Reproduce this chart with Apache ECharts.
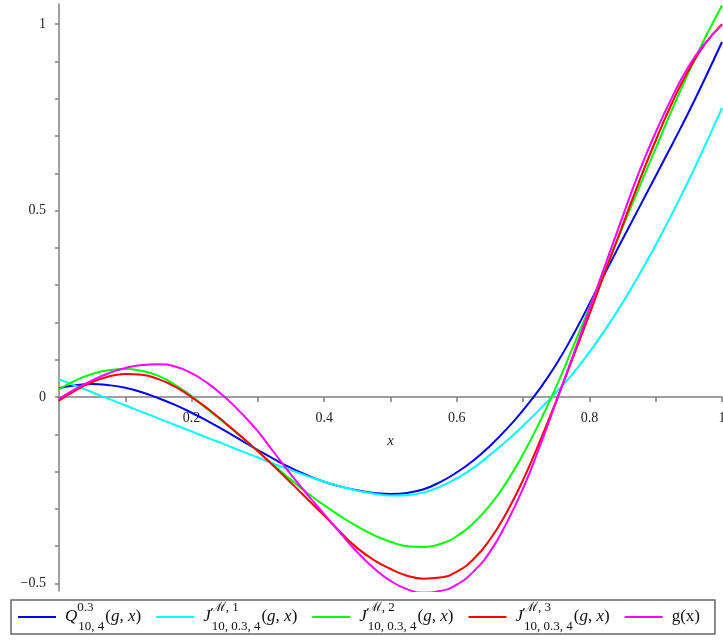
<!DOCTYPE html>
<html>
<head>
<meta charset="utf-8">
<script src="https://cdn.jsdelivr.net/npm/echarts@6/dist/echarts.min.js"></script>
<style>
html,body{margin:0;padding:0;background:#fff;}
#chart{width:723px;height:641px;}
</style>
</head>
<body>
<div id="chart"></div>
<script>
// x sample positions (values every 0.025)
const xs = [0, 0.025, 0.05, 0.075, 0.1, 0.125, 0.15, 0.175, 0.2, 0.225, 0.25, 0.275, 0.3, 0.325, 0.35, 0.375, 0.4, 0.425, 0.45, 0.475, 0.5,
            0.525, 0.55, 0.575, 0.6, 0.625, 0.65, 0.675, 0.7, 0.725, 0.75, 0.775, 0.8, 0.825, 0.85, 0.875, 0.9, 0.925, 0.95, 0.975, 1];
// Q_{10,4}^{0.3}(g,x)  (blue)
const qVals  = [0.024, 0.032, 0.035, 0.032, 0.025, 0.013, -0.003, -0.021, -0.042, -0.065, -0.09, -0.116, -0.142, -0.167, -0.19, -0.21, -0.227, -0.24, -0.25, -0.257, -0.26,
                -0.257, -0.247, -0.228, -0.202, -0.17, -0.131, -0.086, -0.035, 0.022, 0.088, 0.165, 0.25, 0.337, 0.423, 0.508, 0.593, 0.678, 0.765, 0.857, 0.952];
// J^{M,1}_{10,0.3,4}(g,x)  (cyan)
const j1Vals = [0.048, 0.03, 0.013, -0.005, -0.022, -0.04, -0.057, -0.075, -0.092, -0.11, -0.127, -0.145, -0.162, -0.18, -0.196, -0.212, -0.227, -0.24, -0.251, -0.259, -0.264,
                -0.263, -0.256, -0.24, -0.218, -0.19, -0.155, -0.118, -0.077, -0.033, 0.013, 0.063, 0.12, 0.184, 0.253, 0.328, 0.408, 0.493, 0.582, 0.677, 0.775];
// J^{M,2}_{10,0.3,4}(g,x)  (green)
const j2Vals = [0.021, 0.045, 0.062, 0.072, 0.075, 0.07, 0.057, 0.033, 0.002, -0.034, -0.07, -0.107, -0.145, -0.185, -0.222, -0.258, -0.29, -0.32, -0.347, -0.37, -0.388,
                -0.4, -0.402, -0.394, -0.373, -0.338, -0.29, -0.228, -0.153, -0.067, 0.028, 0.133, 0.24, 0.348, 0.455, 0.562, 0.667, 0.772, 0.872, 0.965, 1.05];
// J^{M,3}_{10,0.3,4}(g,x)  (red)
const j3Vals = [-0.01, 0.018, 0.04, 0.055, 0.062, 0.06, 0.048, 0.028, 0.0, -0.032, -0.068, -0.106, -0.145, -0.187, -0.23, -0.274, -0.318, -0.363, -0.405, -0.437, -0.461,
                -0.479, -0.487, -0.484, -0.468, -0.435, -0.382, -0.31, -0.222, -0.12, -0.01, 0.105, 0.222, 0.342, 0.46, 0.578, 0.688, 0.79, 0.878, 0.948, 1.0];
// g(x)  (magenta)
const gVals  = [-0.005, 0.022, 0.045, 0.064, 0.078, 0.086, 0.088, 0.082, 0.064, 0.036, 0.0, -0.043, -0.092, -0.15, -0.208, -0.262, -0.314, -0.366, -0.416, -0.459, -0.493,
                -0.515, -0.525, -0.52, -0.503, -0.468, -0.415, -0.338, -0.245, -0.133, -0.012, 0.11, 0.235, 0.36, 0.483, 0.604, 0.71, 0.805, 0.888, 0.95, 0.998];

const seriesNames = ['Q', 'J1', 'J2', 'J3', 'g'];
const xTickValues = [0, 0.1, 0.2, 0.3, 0.4, 0.5, 0.6, 0.7, 0.8, 0.9, 1];
const xLabelValues = [0.2, 0.4, 0.6, 0.8, 1];
const yTickValues = [-0.5, -0.4, -0.3, -0.2, -0.1, 0, 0.1, 0.2, 0.3, 0.4, 0.5, 0.6, 0.7, 0.8, 0.9, 1];
const yLabelValues = [-0.5, 0, 0.5, 1];

const legendRich = {
  Q:  '{it0|Q}{sup|0.3}{sub|10, 4}{n|(}{it|g}{n|, }{it|x}{n|)}',
  J1: '{it0|J}{sup|ℳ, 1}{sub|10, 0.3, 4}{n|(}{it|g}{n|, }{it|x}{n|)}',
  J2: '{it0|J}{sup|ℳ, 2}{sub|10, 0.3, 4}{n|(}{it|g}{n|, }{it|x}{n|)}',
  J3: '{it0|J}{sup|ℳ, 3}{sub|10, 0.3, 4}{n|(}{it|g}{n|, }{it|x}{n|)}',
  g:  '{n0|g(x)}'
};

const colors = ['#0000ff', '#00ffff', '#00ff00', '#ff0000', '#ff00ff'];
const valueSets = [qVals, j1Vals, j2Vals, j3Vals, gVals];

const serif = '"Liberation Serif", "DejaVu Serif", serif';
const axisColor = '#808080';
const yMin = -0.52, yMax = 1.054;
const gridTop = 4, gridBottom = 50, H = 641;
// move the x axis onto y = 0
const plotH = H - gridTop - gridBottom;
const zeroOffset = -plotH * (0 - yMin) / (yMax - yMin);

const chart = echarts.init(document.getElementById('chart'), null, {renderer: 'canvas'});
chart.setOption({
  animation: false,
  backgroundColor: '#ffffff',
  grid: {left: 59, right: 1, top: gridTop, bottom: gridBottom, containLabel: false, outerBoundsMode: 'none'},
  xAxis: {
    type: 'value', min: 0, max: 1,
    offset: zeroOffset,
    axisLine: {show: true, onZero: false, lineStyle: {color: axisColor, width: 1.5}},
    axisTick: {show: true, customValues: xTickValues, length: 5, lineStyle: {color: axisColor, width: 1.5}},
    axisLabel: {customValues: xLabelValues, margin: 14, color: '#222', fontFamily: serif, fontSize: 14,
      formatter: v => (Math.round(v * 10) / 10).toString()},
    splitLine: {show: false},
    name: 'x', nameLocation: 'middle', nameGap: 36,
    nameTextStyle: {fontFamily: serif, fontStyle: 'italic', fontSize: 15, color: '#222'}
  },
  yAxis: {
    type: 'value', min: yMin, max: yMax,
    axisLine: {show: true, onZero: false, lineStyle: {color: axisColor, width: 1.5}},
    axisTick: {show: true, customValues: yTickValues, length: 4, lineStyle: {color: axisColor, width: 1.5}},
    axisLabel: {customValues: yLabelValues, margin: 13, color: '#222', fontFamily: serif, fontSize: 14,
      formatter: v => { const r = Math.round(v * 10) / 10; return r < 0 ? '\u2212' + Math.abs(r) : r.toString(); }},
    splitLine: {show: false}
  },
  legend: {
    data: seriesNames,
    left: 11, top: 600,
    padding: [1, 15, 1, 6],
    itemGap: 14,
    itemWidth: 38, itemHeight: 14,
    itemStyle: {opacity: 0},
    borderColor: '#666', borderWidth: 1.5, borderRadius: 0,
    backgroundColor: '#fff',
    formatter: name => legendRich[name],
    textStyle: {
      fontFamily: serif, fontSize: 17, color: '#111',
      rich: {
        it0: {fontFamily: serif, fontStyle: 'italic', fontSize: 17, color: '#111', lineHeight: 32, verticalAlign: 'middle', padding: [0, 0, 0, 4]},
        it: {fontFamily: serif, fontStyle: 'italic', fontSize: 17, color: '#111', lineHeight: 32, verticalAlign: 'middle'},
        n:  {fontFamily: serif, fontSize: 17, color: '#111', lineHeight: 32, verticalAlign: 'middle'},
        n0: {fontFamily: serif, fontSize: 17, color: '#111', lineHeight: 32, verticalAlign: 'middle', padding: [0, 0, 0, 4]},
        sup:{fontFamily: serif, fontSize: 13, color: '#111', lineHeight: 13, verticalAlign: 'top', width: 1},
        sub:{fontFamily: serif, fontSize: 13, color: '#111', lineHeight: 13, verticalAlign: 'bottom', padding: [0, 1, 0, 0]}
      }
    }
  },
  series: seriesNames.map((name, i) => ({
    name: name,
    type: 'line',
    data: xs.map((x, k) => [x, valueSets[i][k]]),
    smooth: 0.5,
    symbol: 'none',
    clip: true,
    lineStyle: {color: colors[i], width: 2},
    itemStyle: {color: colors[i]}
  }))
});
</script>
</body>
</html>
